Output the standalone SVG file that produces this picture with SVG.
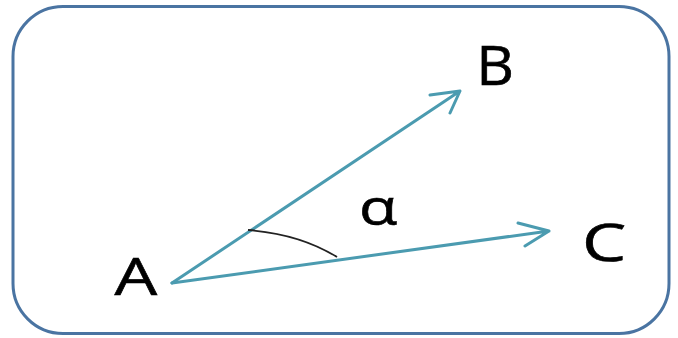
<svg xmlns="http://www.w3.org/2000/svg" width="678" height="338" viewBox="0 0 678 338">
<style>
.frame{fill:#fff;stroke:#4a74a2;stroke-width:3}
.vec{fill:none;stroke:#4b9bb0;stroke-width:3;stroke-linecap:round;stroke-linejoin:round}
.angle{fill:none;stroke:#222;stroke-width:1.8}
.lbl{font-family:"Open Sans","Liberation Sans",sans-serif;fill:#000;stroke:#000;stroke-width:0.6}
</style>
<rect class="frame" x="13" y="6.5" width="656" height="327" rx="50" ry="50"/>
<g id="connectors">
<path class="vec" d="M172,283 L460,91 M430,95 L460,91 L450,113"/>
<path class="vec" d="M172,283 L549,231 M518,223 L549,231 L525,246"/>
<path class="angle" d="M248,230 Q300,234 337,257"/>
</g>
<g id="node-A"><text class="lbl" x="136" y="295" font-size="52" text-anchor="middle" transform="translate(136 0) scale(1.3 1) translate(-136 0)">A</text></g>
<g id="node-B"><text class="lbl" x="495" y="85" font-size="54" text-anchor="middle" transform="translate(495 0) scale(1.08 1) translate(-495 0)">B</text></g>
<g id="node-C"><text class="lbl" x="604" y="261" font-size="52" text-anchor="middle" transform="translate(604 0) scale(1.35 1) translate(-604 0)">C</text></g>
<g id="label-alpha"><text class="lbl" x="378" y="225" font-size="50" text-anchor="middle" transform="translate(378 0) scale(1.25 1) translate(-378 0)">α</text></g>
</svg>
